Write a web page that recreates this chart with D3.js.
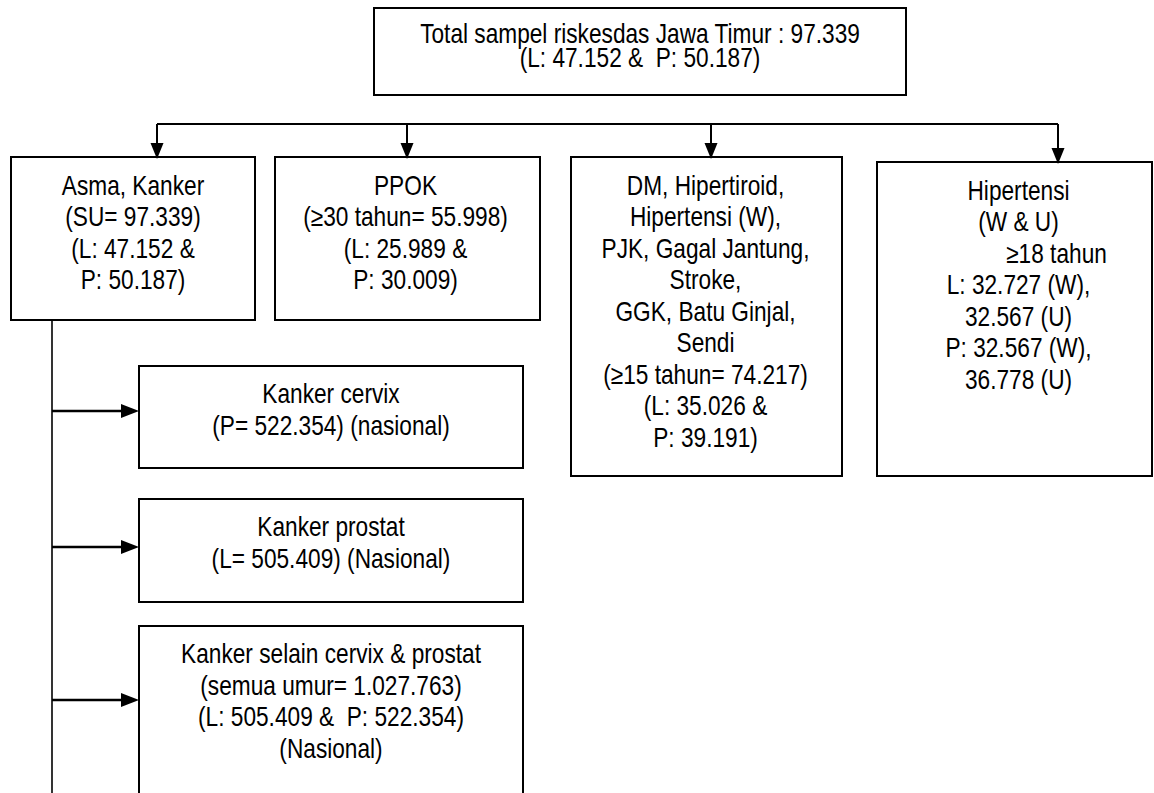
<!DOCTYPE html>
<html>
<head>
<meta charset="utf-8">
<script src="https://cdn.jsdelivr.net/npm/d3@7"></script>
<style>
body { margin: 0; background: #fff; }
text { font-family: "Liberation Sans", Arial, sans-serif; font-size: 27px; fill: #000; white-space: pre; }
</style>
</head>
<body>
<svg id="place" width="1154" height="793"></svg>
<script>
// box texts
var rootLines = ["Total sampel riskesdas Jawa Timur : 97.339", "(L: 47.152 &  P: 50.187)"];
var groupLines = [
    ["Asma, Kanker", "(SU= 97.339)", "(L: 47.152 &", "P: 50.187)"],
    ["PPOK", "(≥30 tahun= 55.998)", "(L: 25.989 &", "P: 30.009)"],
    ["DM, Hipertiroid,", "Hipertensi (W),", "PJK, Gagal Jantung,", "Stroke,", "GGK, Batu Ginjal,", "Sendi", "(≥15 tahun= 74.217)", "(L: 35.026 &", "P: 39.191)"],
    ["Hipertensi", "(W & U)", "≥18 tahun", "L: 32.727 (W),", "32.567 (U)", "P: 32.567 (W),", "36.778 (U)"]
];
var cancerLines = [
    ["Kanker cervix", "(P= 522.354) (nasional)"],
    ["Kanker prostat", "(L= 505.409) (Nasional)"],
    ["Kanker selain cervix & prostat", "(semua umur= 1.027.763)", "(L: 505.409 &  P: 522.354)", "(Nasional)"]
];

// layout, in page pixels
var rootBox = [374, 8, 906, 95];
var groupBox = [[11, 157, 255, 320], [275, 157, 540, 320], [571, 157, 842, 476], [877, 162, 1152, 476]];
var groupArrowX = [157, 407, 711, 1058];
var groupTextDx = [0, -2, -1, 4];
var busY = 124;
var cancerBox = [[139, 366, 523, 468], [139, 499, 523, 602], [139, 626, 523, 820]];
var cancerArrowY = [411, 547, 700];
var spineX = 52;
var lineGap = 31.5;
var narrow = 0.84;   // no Arial Narrow here, squeeze Liberation Sans instead

var svg = d3.select("#place");

var drawBox = function(b) {
    svg.append("rect")
        .attr("x", b[0]).attr("y", b[1])
        .attr("width", b[2] - b[0]).attr("height", b[3] - b[1])
        .attr("fill", "none").attr("stroke", "#000").attr("stroke-width", 2);
};

var drawLines = function(lines, cx, y0, gap) {
    svg.append("g").selectAll("text")
        .data(lines)
        .enter().append("text")
        .attr("transform", function(d, i) {
            var dx = d.indexOf("≥18") === 0 ? 38 : 0;
            return "translate(" + (cx + dx) + "," + (y0 + i * gap) + ")scale(" + narrow + ",1)";
        })
        .attr("text-anchor", "middle")
        .text(function(d) { return d; });
};

var line = d3.line();

var arrowDown = function(x, y1, y2) {
    svg.append("path").attr("d", line([[x, y1], [x, y2 - 14]]))
        .attr("stroke", "#000").attr("stroke-width", 2).attr("fill", "none");
    svg.append("path").attr("d", line([[x - 6.5, y2 - 16], [x + 6.5, y2 - 16], [x, y2]]) + "Z")
        .attr("fill", "#000");
};

var arrowRight = function(x1, x2, y) {
    svg.append("path").attr("d", line([[x1, y], [x2 - 16, y]]))
        .attr("stroke", "#000").attr("stroke-width", 2.5).attr("fill", "none");
    svg.append("path").attr("d", line([[x2 - 18, y - 7], [x2 - 18, y + 7], [x2, y]]) + "Z")
        .attr("fill", "#000");
};

// root
drawBox(rootBox);
drawLines(rootLines, (rootBox[0] + rootBox[2]) / 2, 43, 23.5);

// bus and group arrows
svg.append("path").attr("d", line([[groupArrowX[0], busY], [groupArrowX[3], busY]]))
    .attr("stroke", "#000").attr("stroke-width", 2).attr("fill", "none");
groupBox.forEach(function(b, i) {
    arrowDown(groupArrowX[i], busY, b[1] + 2);
    drawBox(b);
    drawLines(groupLines[i], (b[0] + b[2]) / 2 + groupTextDx[i], b[1] + 37.5, lineGap);
});

// cancer branch
svg.append("path").attr("d", line([[spineX, groupBox[0][3]], [spineX, 800]]))
    .attr("stroke", "#000").attr("stroke-width", 1.6).attr("fill", "none");
cancerBox.forEach(function(b, i) {
    arrowRight(spineX, b[0], cancerArrowY[i]);
    drawBox(b);
    drawLines(cancerLines[i], (b[0] + b[2]) / 2, b[1] + 37, lineGap);
});
</script>
</body>
</html>
